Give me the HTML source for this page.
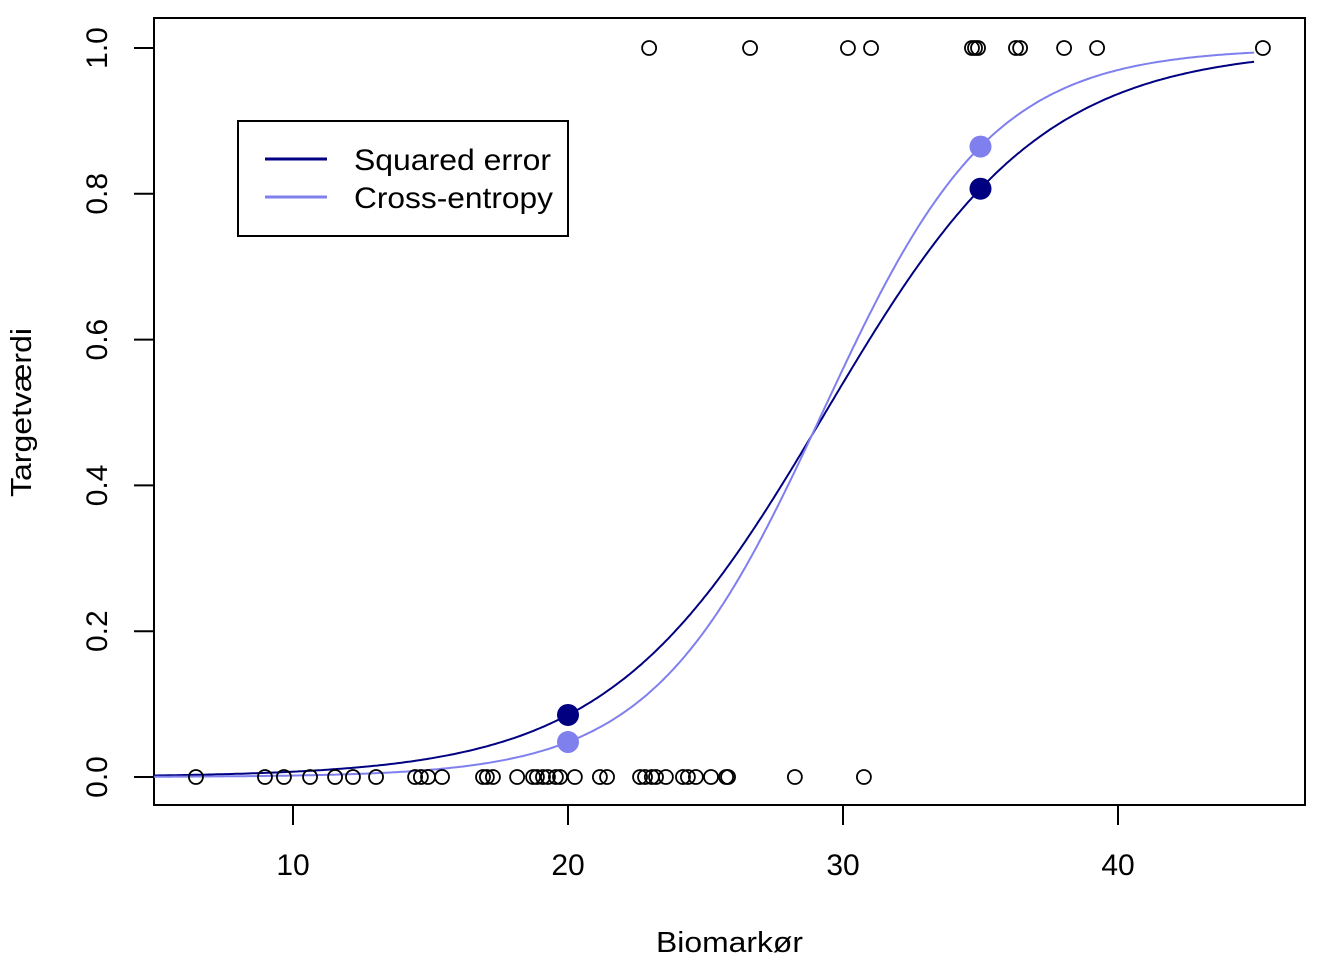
<!DOCTYPE html>
<html><head><meta charset="utf-8"><style>body{margin:0;background:#fff}svg{display:block;font-family:"Liberation Sans",sans-serif}</style></head>
<body>
<svg id="c" width="1344" height="960" viewBox="0 0 1344 960">
<rect x="154" y="18" width="1151" height="787" fill="none" stroke="#000" stroke-width="2"/>
<g id="ax"></g><g id="curves"></g><g id="pts"></g>
<g>
<rect x="238" y="121" width="330" height="115" fill="#fff" stroke="#000" stroke-width="2"/>
<line x1="265" y1="159" x2="327" y2="159" stroke="#000080" stroke-width="3"/>
<line x1="265" y1="197" x2="327" y2="197" stroke="#7f7fee" stroke-width="3"/>
<text x="354" y="170" font-size="30" textLength="197" lengthAdjust="spacingAndGlyphs">Squared error</text>
<text x="354" y="208" font-size="30" textLength="199" lengthAdjust="spacingAndGlyphs">Cross-entropy</text>
</g>
<text x="656" y="952" font-size="29" textLength="147" lengthAdjust="spacingAndGlyphs">Biomarkør</text>
<text transform="translate(31,497) rotate(-90)" font-size="29" textLength="169" lengthAdjust="spacingAndGlyphs">Targetværdi</text>
</svg>
<script>
const xTicks=[10,20,30,40];
const yTicks=[0,0.2,0.4,0.6,0.8,1.0];
const yTickLabels=["0.0","0.2","0.4","0.6","0.8","1.0"];
const xZero=[6.47,8.98,9.67,10.62,11.53,12.18,13.02,14.44,14.65,14.91,15.42,16.91,17.05,17.27,18.15,18.73,18.87,19.09,19.27,19.56,19.71,20.25,21.16,21.42,22.62,22.80,23.05,23.20,23.56,24.18,24.36,24.65,25.2,25.75,25.82,28.25,30.76];
const xOne=[22.95,26.62,30.18,31.02,34.69,34.8,34.91,36.29,36.44,38.04,39.24,45.27];
const sqParams=[-7.449,0.2537];
const ceParams=[-9.446,0.3229];
const markX=[20,35];
const NS="http://www.w3.org/2000/svg";
const X=v=>18+27.5*v, Y=v=>777-729*v;
function mk(t,a,p){const e=document.createElementNS(NS,t);for(const k in a)e.setAttribute(k,a[k]);p.appendChild(e);return e;}
const ax=document.getElementById('ax');
xTicks.forEach(t=>{mk('line',{x1:X(t),x2:X(t),y1:805,y2:825,stroke:'#000','stroke-width':2},ax);
const tx=mk('text',{x:X(t),y:875,'font-size':30,'text-anchor':'middle'},ax);tx.textContent=t;

});
yTicks.forEach((t,i)=>{mk('line',{x1:134,x2:154,y1:Y(t),y2:Y(t),stroke:'#000','stroke-width':2},ax);
const tx=mk('text',{transform:`translate(107,${Y(t)}) rotate(-90)`,'font-size':30,'text-anchor':'middle'},ax);tx.textContent=yTickLabels[i];

});
const f=(p,x)=>1/(1+Math.exp(-(p[0]+p[1]*x)));
const cg=document.getElementById('curves');
[[sqParams,'#000080','squared-error-curve'],[ceParams,'#7f7fee','cross-entropy-curve']].forEach(([p,c,n])=>{
let d='';for(let x=4.95;x<=45.05;x+=0.1)d+=(d?'L':'M')+X(x).toFixed(1)+','+Y(f(p,x)).toFixed(1);
const e=mk('path',{d:d,fill:'none',stroke:c,'stroke-width':2},cg);

});
const pg=document.getElementById('pts');
xZero.forEach(v=>{const e=mk('circle',{cx:X(v),cy:Y(0),r:7,fill:'none',stroke:'#000','stroke-width':1.8},pg);

});
xOne.forEach(v=>{const e=mk('circle',{cx:X(v),cy:Y(1),r:7,fill:'none',stroke:'#000','stroke-width':1.8},pg);

});
markX.forEach(v=>{[[sqParams,'#000080'],[ceParams,'#7f7fee']].forEach(([p,c])=>{
const e=mk('circle',{cx:X(v),cy:Y(f(p,v)),r:11,fill:c},pg);

});});
</script>
</body></html>
